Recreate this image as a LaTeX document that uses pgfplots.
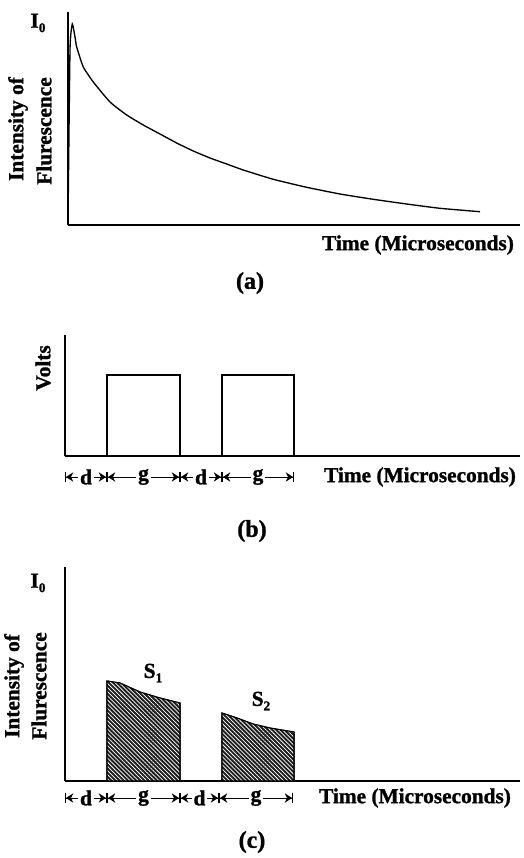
\documentclass[border=0pt]{standalone}
\usepackage{fontspec}
\setmainfont{Liberation Serif}[BoldFeatures={FakeBold=1.2}]
\usepackage{pgfplots}
\pgfplotsset{compat=1.18}
\usetikzlibrary{arrows.meta,patterns.meta}
\newcommand{\lab}{\fontsize{16}{19}\selectfont\bfseries}
\newcommand{\biglab}{\fontsize{18}{21}\selectfont\bfseries}
\newcommand{\sub}[1]{\raisebox{-0.45ex}{\fontsize{10}{12}\selectfont\bfseries #1}}
\pgfplotsset{panel/.style={anchor=south west, scale only axis, axis x line=bottom, axis y line=left,
  axis line style={-, line width=1.4pt}, ticks=none, clip=false, xmin=0, ymin=0}}
\tikzset{seg/.style={line width=0.7pt, {Bar[width=8pt]Stealth[length=5.5pt,width=7pt]}-{Stealth[length=5.5pt,width=7pt]Bar[width=8pt]}},
  sl/.style={fill=white, inner sep=1.5pt, font=\lab}}
\begin{document}
\begin{tikzpicture}
\path[use as bounding box] (0,0) rectangle (393pt,-643.5pt);
% (a)
\begin{axis}[panel, at={(51pt,-168.75pt)}, width=339pt, height=159.75pt, xmax=452, ymax=213]
\addplot[black, line width=1pt, smooth, tension=0.3] coordinates {(0,0)(2,175)(4.3,201)(7,188)(8.7,178)(15.3,158)(25.3,143)(42,123)(58.7,110)(75.3,100)(92,91)(108.7,82)(125.3,74)(142,67)(158.7,61)(175.3,55)(205.3,45.7)(238.7,37.7)(272,31)(305.3,25.7)(338.7,21)(372,16.7)(412,13.3)};
\end{axis}
% (b)
\begin{axis}[panel, at={(48.75pt,-342pt)}, width=341.25pt, height=90.75pt, xmax=455, ymax=121]
\addplot[black, line width=0.8pt] coordinates {(42,0)(42,81)(115,81)(115,0)};
\addplot[black, line width=0.8pt] coordinates {(157,0)(157,81)(229,81)(229,0)};
\draw[seg] (axis cs:0,-21) -- node[sl]{d} (axis cs:42,-21);
\draw[seg] (axis cs:42,-21) -- node[sl]{g} (axis cs:115,-21);
\draw[seg] (axis cs:115,-21) -- node[sl]{d} (axis cs:157,-21);
\draw[seg] (axis cs:157,-21) -- node[sl]{g} (axis cs:229,-21);
\end{axis}
% (c)
\begin{axis}[panel, at={(48.75pt,-585.75pt)}, width=341.25pt, height=160.5pt, xmax=455, ymax=214]
\addplot[draw=black, line width=0.8pt, fill=black!88, postaction={pattern={Lines[angle=-45,distance=2.2pt,line width=0.55pt]}, pattern color=white}] coordinates {(42,0)(42,100)(55,98)(75,89)(95,83)(115,78)(115,0)} -- cycle;
\addplot[draw=black, line width=0.8pt, fill=black!88, postaction={pattern={Lines[angle=-45,distance=2.2pt,line width=0.55pt]}, pattern color=white}] coordinates {(157,0)(157,68)(172,63)(188,57)(205,53)(229,49)(229,0)} -- cycle;
\draw[seg] (axis cs:0,-17) -- node[sl]{d} (axis cs:42,-17);
\draw[seg] (axis cs:42,-17) -- node[sl]{g} (axis cs:115,-17);
\draw[seg] (axis cs:115,-17) -- node[sl]{d} (axis cs:154,-17);
\draw[seg] (axis cs:154,-17) -- node[sl]{g} (axis cs:228,-17);
\end{axis}
\begin{scope}[x=0.75pt,y=-0.75pt]
\node[font=\lab] at (38,23) {I\sub{0}};
\node[font=\lab, rotate=90] at (18,129) {Intensity of};
\node[font=\lab, rotate=90] at (44,131) {Flurescence};
\node[font=\lab] at (418,245) {Time (Microseconds)};
\node[font=\biglab] at (250,283) {(a)};
\node[font=\lab, rotate=90] at (43,368) {Volts};
\node[font=\lab] at (420,477) {Time (Microseconds)};
\node[font=\biglab] at (252,531) {(b)};
\node[font=\lab] at (38,583) {I\sub{0}};
\node[font=\lab, rotate=90] at (14,686) {Intensity of};
\node[font=\lab, rotate=90] at (39,686) {Flurescence};
\node[font=\lab] at (153,673) {S\sub{1}};
\node[font=\lab] at (261,701) {S\sub{2}};
\node[font=\lab] at (415,798) {Time (Microseconds)};
\node[font=\biglab] at (252,842) {(c)};
\end{scope}
\end{tikzpicture}
\end{document}
